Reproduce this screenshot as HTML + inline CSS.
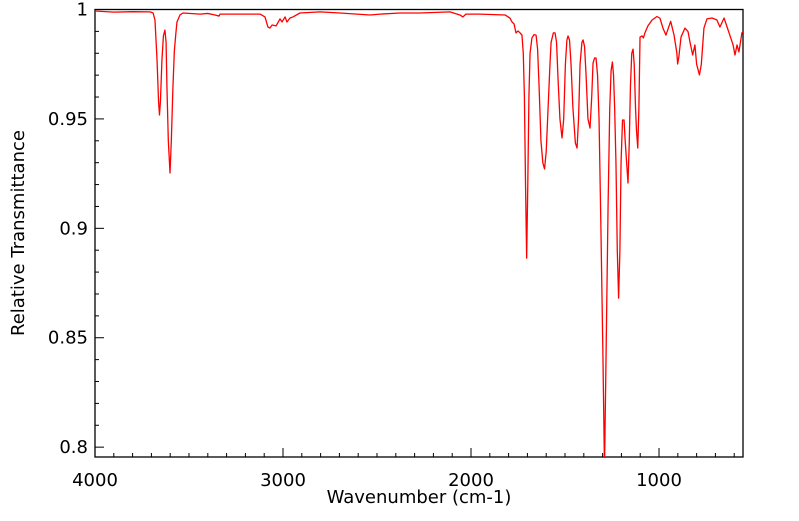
<!DOCTYPE html>
<html><head><meta charset="utf-8"><style>
html,body{margin:0;padding:0;background:#fff;}
svg text{font-family:"DejaVu Sans","Liberation Sans",sans-serif;fill:#000;}
</style></head><body>
<svg id="chart" width="799" height="516" viewBox="0 0 799 516" xmlns="http://www.w3.org/2000/svg">
<g id="axes"></g>
<path id="spectrum" fill="none" stroke="#ff0000" stroke-width="1.3" stroke-linejoin="round"/>
<text x="419" y="503" font-size="18" text-anchor="middle">Wavenumber (cm-1)</text>
<text x="0" y="0" font-size="18" text-anchor="middle" transform="translate(24,233) rotate(-90)">Relative Transmittance</text>
</svg>
<script>
const wavenumbers=[4000,3900,3800,3707,3691,3681,3670,3662,3657,3652,3644,3636,3628,3622,3617,3610,3601,3594,3586,3578,3570,3564,3548,3532,3441,3400,3362,3340,3335,3122,3096,3080,3070,3058,3037,3016,3005,2989,2979,2963,2947,2910,2803,2697,2537,2484,2378,2271,2112,2059,2043,2027,1952,1819,1793,1782,1771,1761,1750,1739,1729,1722,1716,1710,1704,1698,1692,1686,1676,1665,1654,1646,1638,1628,1618,1609,1600,1590,1580,1574,1562,1553,1545,1537,1527,1516,1507,1498,1490,1484,1476,1468,1458,1445,1436,1428,1420,1410,1404,1396,1388,1378,1367,1358,1351,1343,1335,1327,1319,1309,1298,1290,1282,1271,1262,1255,1248,1242,1236,1229,1222,1215,1208,1202,1194,1186,1180,1165,1158,1152,1145,1138,1132,1125,1120,1113,1107,1101,1090,1083,1075,1059,1037,1011,995,979,963,938,920,905,901,895,883,862,846,835,821,809,800,785,775,761,745,718,692,676,654,638,622,606,596,585,575,559,553];
const transmittance=[.9993,.9988,.9990,.9989,.9984,.9952,.9769,.958,.9518,.958,.9769,.9880,.9906,.985,.9632,.9400,.9253,.940,.9632,.9810,.9890,.9943,.9975,.9984,.9979,.9982,.9975,.9970,.9979,.9979,.9966,.9920,.9915,.9929,.9925,.9957,.9943,.9966,.9943,.9961,.9966,.9984,.9989,.9984,.9975,.9979,.9984,.9984,.9989,.9975,.9966,.9979,.9979,.9975,.9961,.9943,.9934,.9893,.9902,.9893,.9883,.98,.96,.92,.8864,.92,.96,.980,.9870,.9885,.9883,.982,.965,.940,.930,.9271,.935,.955,.975,.985,.9893,.9893,.985,.968,.950,.9413,.950,.975,.986,.9879,.986,.975,.955,.9390,.9367,.950,.975,.985,.9861,.983,.970,.950,.9458,.960,.9755,.9778,.9778,.970,.950,.900,.840,.790,.840,.910,.955,.9720,.9760,.9701,.955,.930,.890,.8681,.890,.930,.9495,.9495,.940,.9207,.940,.965,.980,.9819,.975,.955,.945,.9367,.955,.9874,.9879,.9870,.9893,.9925,.9952,.9968,.9960,.9915,.9883,.9946,.9883,.980,.9751,.978,.9874,.9915,.9900,.985,.9792,.9838,.975,.9701,.975,.9915,.9957,.9961,.9952,.9920,.9961,.9920,.9879,.9838,.9792,.9838,.9806,.9893,.9900];
const xTickLabels=[4000,3000,2000,1000];
const yTickLabels=[1,0.95,0.9,0.85,0.8];

const L=95,R=743,T=9.5,B=457,XMAX=4000,XMIN=553.3,YMAX=1,YMIN=0.7955;
function xs(v){return L+(XMAX-v)/(XMAX-XMIN)*(R-L);}
function ys(v){return T+(YMAX-v)/(YMAX-YMIN)*(B-T);}
const NS='http://www.w3.org/2000/svg';
const axes=document.getElementById('axes');
function mk(tag,attrs,parent){const e=document.createElementNS(NS,tag);for(const k in attrs)e.setAttribute(k,attrs[k]);(parent||axes).appendChild(e);return e;}
const frame=mk('rect',{x:L,y:T,width:R-L,height:B-T,fill:'none',stroke:'#000','stroke-width':1.3});


for(let v=4000;v>=XMIN;v-=100){
  const major=v%1000===0;
  const t=mk('line',{x1:xs(v),x2:xs(v),y1:B,y2:B-(major?9:4),stroke:'#000','stroke-width':1});
  
  
}
xTickLabels.forEach(v=>{
  const t=mk('text',{x:xs(v),y:486,'font-size':18,'text-anchor':'middle'});
  t.textContent=String(v);
  
  
});
for(let i=0;i<=20;i++){
  const v=1-i*0.01;if(v<YMIN)break;
  const major=i%5===0;
  const t=mk('line',{x1:L,x2:L+(major?9:4),y1:ys(v),y2:ys(v),stroke:'#000','stroke-width':1});
  
  
}
yTickLabels.forEach(v=>{
  const t=mk('text',{x:88,y:ys(v)+6,'font-size':18,'text-anchor':'end'});
  t.textContent=String(v);
  
  
});
const clip=mk('clipPath',{id:'pc'});
mk('rect',{x:L,y:T,width:R-L,height:B-T},clip);
let d='';
wavenumbers.forEach((w,i)=>{d+=(i?'L':'M')+xs(w).toFixed(2)+','+ys(transmittance[i]).toFixed(2);});
const sp=document.getElementById('spectrum');
sp.setAttribute('d',d);
sp.setAttribute('clip-path','url(#pc)');
</script>
</body></html>
